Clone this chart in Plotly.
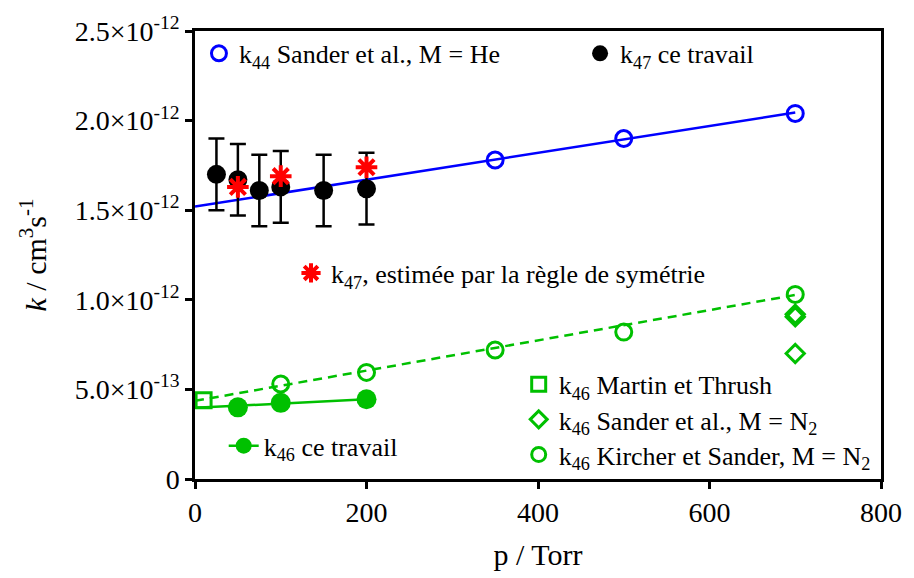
import plotly.graph_objects as go

# ---------------- data ----------------
k44_p = [350, 500, 700]
k44_k = [1.78e-12, 1.90e-12, 2.04e-12]
k44_fit_p = [0, 700]
k44_fit_k = [1.52e-12, 2.045e-12]

k47_p = [25, 50, 75, 100, 150, 200]
k47_k = [1.70e-12, 1.67e-12, 1.61e-12, 1.63e-12, 1.61e-12, 1.62e-12]
k47_err = [0.2e-12, 0.2e-12, 0.2e-12, 0.2e-12, 0.2e-12, 0.2e-12]

k47_sym_p = [50, 100, 200]
k47_sym_k = [1.63e-12, 1.69e-12, 1.74e-12]

k46_p = [50, 100, 200]
k46_k = [0.40e-12, 0.425e-12, 0.445e-12]
k46_fit_p = [0, 200]
k46_fit_k = [0.397e-12, 0.445e-12]

k46_mt_p = [10]
k46_mt_k = [0.44e-12]

k46_sander_p = [700, 700, 700]
k46_sander_k = [0.70e-12, 0.905e-12, 0.92e-12]

k46_kircher_p = [100, 200, 350, 500, 700]
k46_kircher_k = [0.53e-12, 0.595e-12, 0.72e-12, 0.82e-12, 1.03e-12]
k46_kircher_fit_p = [0, 700]
k46_kircher_fit_k = [0.436e-12, 1.027e-12]

x_ticks = [0, 200, 400, 600, 800]
y_tickvals = [0, 0.5e-12, 1.0e-12, 1.5e-12, 2.0e-12, 2.5e-12]
y_ticktext = ["0", "5.0×10<sup>-13</sup>", "1.0×10<sup>-12</sup>", "1.5×10<sup>-12</sup>",
              "2.0×10<sup>-12</sup>", "2.5×10<sup>-12</sup>"]

BLUE = "#0000FF"
GREEN = "#00C000"
RED = "#FF0000"
BLACK = "#000000"
FONT = "Liberation Serif"

fig = go.Figure()

# lines
fig.add_trace(go.Scatter(x=k44_fit_p, y=k44_fit_k, mode="lines",
                         line=dict(color=BLUE, width=2.5), showlegend=False, hoverinfo="skip"))
fig.add_trace(go.Scatter(x=k46_kircher_fit_p, y=k46_kircher_fit_k, mode="lines",
                         line=dict(color=GREEN, width=2.5, dash="9px,6px"), showlegend=False, hoverinfo="skip"))
fig.add_trace(go.Scatter(x=k46_fit_p, y=k46_fit_k, mode="lines",
                         line=dict(color=GREEN, width=2.5), showlegend=False, hoverinfo="skip"))

# markers
fig.add_trace(go.Scatter(x=k44_p, y=k44_k, mode="markers", showlegend=False,
                         marker=dict(symbol="circle-open", size=16, color=BLUE, line=dict(width=3, color=BLUE))))
fig.add_trace(go.Scatter(x=k47_p, y=k47_k, mode="markers", showlegend=False,
                         error_y=dict(type="data", array=k47_err, color=BLACK, thickness=2.5, width=8),
                         marker=dict(symbol="circle", size=19, color=BLACK)))
fig.add_trace(go.Scatter(x=k47_sym_p, y=k47_sym_k, mode="markers", showlegend=False,
                         marker=dict(symbol="asterisk", size=18, color=RED, line=dict(width=4, color=RED))))
fig.add_trace(go.Scatter(x=k46_kircher_p, y=k46_kircher_k, mode="markers", showlegend=False,
                         marker=dict(symbol="circle-open", size=16, color=GREEN, line=dict(width=3, color=GREEN))))
fig.add_trace(go.Scatter(x=k46_sander_p, y=k46_sander_k, mode="markers", showlegend=False,
                         marker=dict(symbol="diamond-open", size=14, color=GREEN, line=dict(width=3, color=GREEN))))
fig.add_trace(go.Scatter(x=k46_mt_p, y=k46_mt_k, mode="markers", showlegend=False,
                         marker=dict(symbol="square-open", size=15, color=GREEN, line=dict(width=3, color=GREEN))))
fig.add_trace(go.Scatter(x=k46_p, y=k46_k, mode="markers", showlegend=False,
                         marker=dict(symbol="circle", size=20, color=GREEN)))

# legend entries (dummy traces)
legend_items = [
    ("legend", "k<sub>44</sub> Sander et al., M = He", "markers",
     dict(symbol="circle-open", size=15, color=BLUE, line=dict(width=3, color=BLUE)), None),
    ("legend2", "k<sub>47</sub> ce travail", "markers",
     dict(symbol="circle", size=16, color=BLACK), None),
    ("legend3", "k<sub>47</sub>, estimée par la règle de symétrie", "markers",
     dict(symbol="asterisk", size=16, color=RED, line=dict(width=4, color=RED)), None),
    ("legend4", "k<sub>46</sub> ce travail", "lines+markers",
     dict(symbol="circle", size=16, color=GREEN), dict(color=GREEN, width=2.5)),
    ("legend5", "k<sub>46</sub> Martin et Thrush", "markers",
     dict(symbol="square-open", size=14, color=GREEN, line=dict(width=3, color=GREEN)), None),
    ("legend6", "k<sub>46</sub> Sander et al., M = N<sub>2</sub>", "markers",
     dict(symbol="diamond-open", size=13, color=GREEN, line=dict(width=3, color=GREEN)), None),
    ("legend7", "k<sub>46</sub> Kircher et Sander, M = N<sub>2</sub>", "markers",
     dict(symbol="circle-open", size=14, color=GREEN, line=dict(width=3, color=GREEN)), None),
]
for lg, name, mode, mk, ln in legend_items:
    kw = dict(x=[None], y=[None], mode=mode, name=name, legend=lg, marker=mk, showlegend=True)
    if ln:
        kw["line"] = ln
    fig.add_trace(go.Scatter(**kw))

FIG_W, FIG_H = 914, 578
# plot-area geometry in window pixels
L, R, T, B = 195, 888, 30, 489
W, H = R - L, B - T

def px(xp):
    return (xp - L) / W

def py(yp):
    return (B - yp) / H

# (text start x, symbol centre y) in window pixels
legend_pos = {
    "legend": (237, 53),
    "legend2": (622, 53),
    "legend3": (330, 278),
    "legend4": (262, 455),
    "legend5": (560, 392),
    "legend6": (560, 428),
    "legend7": (560, 464),
}
layout_legends = {}
for lg, (tx, sy) in legend_pos.items():
    layout_legends[lg] = dict(x=px(tx - 38), y=py(sy), xanchor="left", yanchor="middle",
                              bgcolor="rgba(0,0,0,0)", borderwidth=0,
                              font=dict(family=FONT, size=26, color="black"))

fig.update_layout(
    width=FIG_W, height=FIG_H,
    margin=dict(l=L, r=FIG_W - R, t=T, b=FIG_H - B),
    paper_bgcolor="white", plot_bgcolor="white",
    font=dict(family=FONT, color="black"),
    **layout_legends,
)

fig.update_xaxes(range=[0, 800], tickvals=x_ticks, ticktext=[str(v) for v in x_ticks],
                 showgrid=False, zeroline=False, showline=True, linecolor="black", linewidth=2.5,
                 mirror=True, ticks="outside", ticklen=7, tickwidth=2.5, tickcolor="black",
                 ticklabeloverflow="allow",
                 tickfont=dict(family=FONT, size=28, color="black"),
                 title=dict(text="p / Torr", font=dict(family=FONT, size=30, color="black"), standoff=17))
fig.update_yaxes(range=[0, 2.5e-12], tickvals=y_tickvals, ticktext=y_ticktext,
                 showgrid=False, zeroline=False, showline=True, linecolor="black", linewidth=2.5,
                 mirror=True, ticks="outside", ticklen=7, tickwidth=2.5, tickcolor="black",
                 ticklabeloverflow="allow",
                 tickfont=dict(family=FONT, size=28, color="black"),
                 title=dict(text="<i>k</i> / cm<sup>3</sup>s<sup>-1</sup>",
                            font=dict(family=FONT, size=30, color="black"), standoff=20))

fig.write_html("out.html", config={"displayModeBar": False},
               post_script="document.body.style.margin='0';document.body.style.overflow='hidden';")
